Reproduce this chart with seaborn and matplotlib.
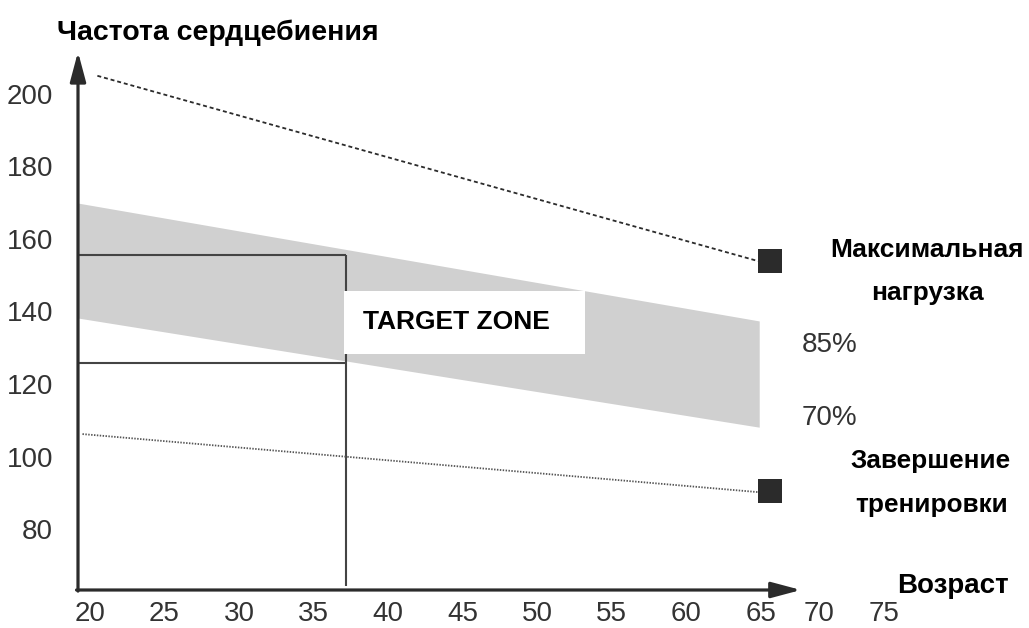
import matplotlib
matplotlib.use("Agg")
import matplotlib.pyplot as plt
import seaborn as sns
import pandas as pd
from matplotlib import font_manager
from matplotlib.patches import Rectangle

# ---- chart values ----
# maximum heart rate line (age, bpm)
max_age = [20.5, 65.0]
max_hr = [205.0, 153.7]
# cool-down line
cool_age = [19.5, 64.8]
cool_hr = [106.2, 90.2]
# training band between 85% and 70%
zone_age = [19.2, 64.9]
zone_85 = [169.9, 137.4]
zone_70 = [138.2, 108.1]
# end markers of the two lines
marker_age = [65.6, 65.6]
marker_hr = [153.8, 90.6]
# worked example: a 37-year-old
example_age = 37.15
example_hr_top = 155.6
example_hr_low = 125.8
# target-zone label box (age span, bpm span)
box_age = [37.05, 53.2]
box_hr = [128.3, 145.7]

y_ticks = [80, 100, 120, 140, 160, 180, 200]
x_tick_pos = [20, 25, 30, 35, 40, 45, 50, 55, 60, 65, 68.9, 73.3]
x_tick_labels = ["20", "25", "30", "35", "40", "45", "50", "55", "60", "65", "70", "75"]

X0, Y0 = 19.2, 63.2          # axis origin
X_END, Y_END = 83.0, 225.9   # visible extent
X_ARROW, Y_ARROW = 67.7, 211.6

W, H = 1029, 628

sns.set_theme(style="white")
available = {f.name for f in font_manager.fontManager.ttflist}
narrow = "Liberation Sans Narrow" if "Liberation Sans Narrow" in available else "Liberation Sans"
plt.rcParams["font.family"] = ["Liberation Sans", "DejaVu Sans"]

fig = plt.figure(figsize=(W / 100, H / 100), dpi=100)
ax = fig.add_axes([78 / W, (H - 590) / H, (W - 78) / W, 590 / H])
ax.set_xlim(X0, X_END)
ax.set_ylim(Y0, Y_END)
for s in ax.spines.values():
    s.set_visible(False)

# training band
ax.fill_between(zone_age, zone_70, zone_85, color="#d0d0d0", linewidth=0, zorder=1)

# worked-example guide lines
ax.hlines(example_hr_top, X0, example_age, color="#444444", lw=1.5, zorder=2)
ax.hlines(example_hr_low, X0, example_age, color="#444444", lw=1.5, zorder=2)
ax.vlines(example_age, Y0 + 1, example_hr_top, color="#444444", lw=1.5, zorder=2)

# label box
ax.add_patch(Rectangle((box_age[0], box_hr[0]), box_age[1] - box_age[0],
                       box_hr[1] - box_hr[0], facecolor="white",
                       edgecolor="none", zorder=3))
ax.text(box_age[0] + 1.27, 137.1, "TARGET ZONE", fontsize=19, fontweight="bold",
        color="black", ha="left", va="center", zorder=4)

# max and cool-down lines
df_max = pd.DataFrame({"age": max_age, "hr": max_hr})
df_cool = pd.DataFrame({"age": cool_age, "hr": cool_hr})
sns.lineplot(data=df_max, x="age", y="hr", ax=ax, color="#2b2b2b", lw=1.3,
             linestyle=(0, (2.2, 1.6)), zorder=5)
sns.lineplot(data=df_cool, x="age", y="hr", ax=ax, color="#555555", lw=1.3,
             linestyle=(0, (0.8, 0.8)), zorder=5)
df_mark = pd.DataFrame({"age": marker_age, "hr": marker_hr})
sns.scatterplot(data=df_mark, x="age", y="hr", ax=ax, marker="s", s=290,
                color="#2b2b2b", linewidth=0, zorder=6, clip_on=False)

# axes with arrow heads
arrow = dict(arrowstyle="-|>,head_length=1.2,head_width=0.32", color="#2b2b2b",
             lw=2.3, mutation_scale=15, shrinkA=0, shrinkB=0)
ax.annotate("", xy=(X0, Y_ARROW), xytext=(X0, Y0 - 0.3), arrowprops=arrow,
            annotation_clip=False, zorder=7)
ax.annotate("", xy=(X_ARROW, Y0), xytext=(X0 - 0.1, Y0), arrowprops=arrow,
            annotation_clip=False, zorder=7)

# ticks
ax.set_xticks(x_tick_pos)
ax.set_xticklabels(x_tick_labels)
ax.set_yticks(y_ticks)
ax.set_yticklabels([str(v) for v in y_ticks])
ax.tick_params(axis="both", length=0, labelsize=20, labelcolor="#333333")
ax.tick_params(axis="x", pad=8)
ax.tick_params(axis="y", pad=18)
for lbl in ax.get_xticklabels() + ax.get_yticklabels():
    lbl.set_family([narrow, "Liberation Sans"])
ax.set_xlabel("")
ax.set_ylabel("")
ax.grid(False)


def fx(px):
    return px / W


def fy(py):
    return 1 - py / H


bold = dict(fontweight="bold", color="black")
fig.text(fx(57), fy(40), "Частота сердцебиения", ha="left", va="baseline",
         fontsize=20.5, **bold)
fig.text(fx(927), fy(257), "Максимальная", ha="center", va="baseline", fontsize=19, **bold)
fig.text(fx(927), fy(300), "нагрузка", ha="center", va="baseline", fontsize=19, **bold)
fig.text(fx(931), fy(468), "Завершение", ha="center", va="baseline", fontsize=18.8, **bold)
fig.text(fx(932), fy(512), "тренировки", ha="center", va="baseline", fontsize=18.8, **bold)
fig.text(fx(953), fy(593), "Возраст", ha="center", va="baseline", fontsize=20, **bold)
fig.text(fx(802), fy(352), "85%", ha="left", va="baseline", fontsize=20,
         color="#333333", family=[narrow, "Liberation Sans"])
fig.text(fx(802), fy(425), "70%", ha="left", va="baseline", fontsize=20,
         color="#333333", family=[narrow, "Liberation Sans"])

fig.savefig("out.png", dpi=100, facecolor="white")
